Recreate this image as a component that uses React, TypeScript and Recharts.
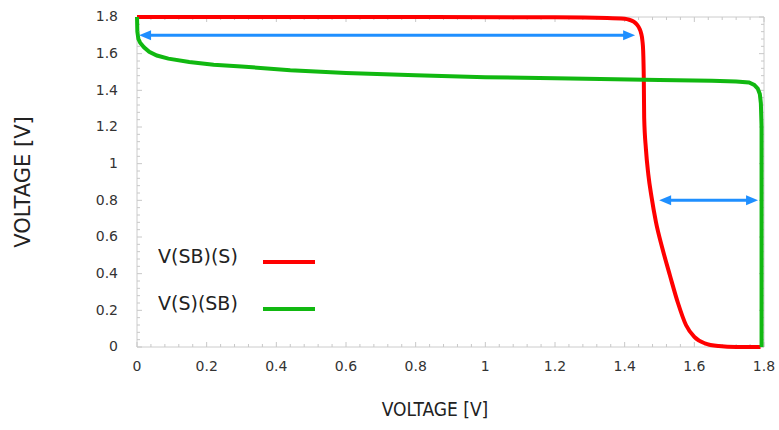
import { LineChart, Line, XAxis, YAxis, ReferenceLine, Legend, Label } from "recharts";

// V(SB)(S) curve
const redX = [0, 0.6, 1.2, 1.35, 1.4, 1.413, 1.426, 1.436, 1.443, 1.447, 1.451, 1.453, 1.455, 1.456, 1.461, 1.468, 1.477, 1.49, 1.508, 1.53, 1.553, 1.576, 1.6, 1.63, 1.67, 1.72, 1.79];
const redY = [1.8, 1.8, 1.798, 1.795, 1.79, 1.785, 1.775, 1.757, 1.735, 1.713, 1.67, 1.62, 1.45, 1.25, 1.08, 0.94, 0.82, 0.68, 0.54, 0.39, 0.24, 0.12, 0.055, 0.02, 0.005, 0, 0];

// V(S)(SB) curve
const greenX = [0, 0.001, 0.004, 0.009, 0.02, 0.035, 0.057, 0.09, 0.15, 0.22, 0.3, 0.44, 0.6, 0.8, 1.0, 1.2, 1.33, 1.5, 1.65, 1.72, 1.757, 1.772, 1.782, 1.788, 1.791, 1.793, 1.793];
const greenY = [1.8, 1.72, 1.68, 1.66, 1.635, 1.61, 1.59, 1.573, 1.555, 1.54, 1.53, 1.51, 1.495, 1.482, 1.472, 1.466, 1.462, 1.457, 1.452, 1.448, 1.443, 1.43, 1.41, 1.38, 1.33, 1.2, 0];

const seriesNames = ["V(SB)(S)", "V(S)(SB)"];
const seriesColors = ["#ff0000", "#11b811"];

// double arrows: [x1, x2, y]
const arrowTop = [0.006, 1.43, 1.7];
const arrowBottom = [1.499, 1.783, 0.8];

// ticks every 0.04, labels every 0.2
const ticks = Array.from({ length: 46 }, (_, i) => Math.round(i * 4) / 100);

const redData = redX.map((x, i) => ({ x, y: redY[i] }));
const greenData = greenX.map((x, i) => ({ x, y: greenY[i] }));

const PLOT_LEFT = 137;
const PLOT_RIGHT = 764;
const PLOT_TOP = 17;
const PLOT_BOTTOM = 347;
const W = 779;
const H = 430;
const TICK_FONT = "'DejaVu Sans', sans-serif";

const isMajor = (v: number) => Math.round(v * 100) % 20 === 0;

const XTick = ({ x, payload }: any) => {
  const major = isMajor(payload.value);
  const len = major ? 5 : 3;
  return (
    <g>
      <line x1={x} y1={PLOT_BOTTOM} x2={x} y2={PLOT_BOTTOM - len} stroke="#c8c8c8" />
      <line x1={x} y1={PLOT_TOP} x2={x} y2={PLOT_TOP + len} stroke="#c8c8c8" />
      {major && (
        <text x={x} y={PLOT_BOTTOM + 14} dy="0.71em" textAnchor="middle" fontSize={14} fill="#333" fontFamily={TICK_FONT}>
          {String(payload.value)}
        </text>
      )}
    </g>
  );
};

const YTick = ({ y, payload }: any) => {
  const major = isMajor(payload.value);
  const len = major ? 5 : 3;
  return (
    <g>
      <line x1={PLOT_LEFT} y1={y} x2={PLOT_LEFT + len} y2={y} stroke="#c8c8c8" />
      <line x1={PLOT_RIGHT} y1={y} x2={PLOT_RIGHT - len} y2={y} stroke="#c8c8c8" />
      {major && (
        <text x={PLOT_LEFT - 19} y={y} dy="0.3em" textAnchor="end" fontSize={14} fill="#333" fontFamily={TICK_FONT}>
          {String(payload.value)}
        </text>
      )}
    </g>
  );
};

const DoubleArrow = (props: any) => {
  const { x1, y1, x2, y2 } = props;
  const color = "#1f8fff";
  const head = 12;
  const half = 5;
  const dir = x2 > x1 ? 1 : -1;
  return (
    <g>
      <line x1={x1 + dir * head * 0.8} y1={y1} x2={x2 - dir * head * 0.8} y2={y2} stroke={color} strokeWidth={3} />
      <polygon points={`${x1},${y1} ${x1 + dir * head},${y1 - half} ${x1 + dir * head},${y1 + half}`} fill={color} />
      <polygon points={`${x2},${y2} ${x2 - dir * head},${y2 - half} ${x2 - dir * head},${y2 + half}`} fill={color} />
    </g>
  );
};

const LegendBox = () => (
  <svg width={180} height={80} style={{ display: "block" }}>
    {seriesNames.map((name, i) => (
      <g key={name}>
        <text x={0} y={25 + i * 47} fontSize={19} fill="#222" fontFamily="'DejaVu Sans', sans-serif">
          {name}
        </text>
        <line x1={105} y1={24 + i * 47} x2={157} y2={24 + i * 47} stroke={seriesColors[i]} strokeWidth={4} />
      </g>
    ))}
  </svg>
);

const XTitle = ({ viewBox }: any) => (
  <text x={435} y={viewBox.y + 56} dy="0.71em" textAnchor="middle" fontSize={19} fill="#222" fontFamily="'DejaVu Sans Condensed', 'DejaVu Sans', sans-serif">
    VOLTAGE [V]
  </text>
);

const YTitle = () => (
  <text x={22} y={182} transform="rotate(-90 22 182)" dy="0.36em" textAnchor="middle" fontSize={21} fill="#222" fontFamily="'DejaVu Sans', sans-serif">
    VOLTAGE [V]
  </text>
);

// frame layer: axes, ticks, titles (drawn underneath the curves)
function Frame() {
  return (
    <LineChart width={W} height={H} data={redData} margin={{ top: PLOT_TOP, right: W - PLOT_RIGHT, bottom: 53, left: 97 }}>
      <XAxis
        type="number"
        dataKey="x"
        domain={[0, 1.8]}
        ticks={ticks}
        interval={0}
        height={30}
        tickSize={0}
        tickMargin={0}
        tickLine={false}
        axisLine={{ stroke: "#cccccc" }}
        tick={<XTick />}
      >
        <Label content={<XTitle />} />
      </XAxis>
      <YAxis
        type="number"
        domain={[0, 1.8]}
        ticks={ticks}
        interval={0}
        width={40}
        tickSize={0}
        tickMargin={0}
        tickLine={false}
        axisLine={{ stroke: "#cccccc" }}
        tick={<YTick />}
      >
        <Label content={<YTitle />} />
      </YAxis>
      <ReferenceLine y={1.8} stroke="#cccccc" />
      <ReferenceLine x={1.8} stroke="#cccccc" />
      <Line dataKey="y" stroke="none" dot={false} isAnimationActive={false} />
    </LineChart>
  );
}

export default function App() {
  return (
    <div style={{ position: "absolute", left: 0, top: 0, width: W, height: H, background: "#fff" }}>
      <Frame />
      <div style={{ position: "absolute", left: 0, top: 0 }}>
        <LineChart
          width={W}
          height={H}
          margin={{ top: PLOT_TOP, right: W - PLOT_RIGHT, bottom: H - PLOT_BOTTOM, left: PLOT_LEFT }}
        >
          <XAxis type="number" dataKey="x" domain={[0, 1.8]} hide />
          <YAxis type="number" domain={[0, 1.8]} hide />
          <Line
            data={redData}
            dataKey="y"
            name={seriesNames[0]}
            type="monotoneX"
            stroke={seriesColors[0]}
            strokeWidth={4}
            dot={false}
            isAnimationActive={false}
          />
          <Line
            data={greenData}
            dataKey="y"
            name={seriesNames[1]}
            type="linear"
            stroke={seriesColors[1]}
            strokeWidth={4}
            dot={false}
            isAnimationActive={false}
          />
          <ReferenceLine
            segment={[
              { x: arrowTop[0], y: arrowTop[2] },
              { x: arrowTop[1], y: arrowTop[2] },
            ]}
            shape={DoubleArrow}
          />
          <ReferenceLine
            segment={[
              { x: arrowBottom[0], y: arrowBottom[2] },
              { x: arrowBottom[1], y: arrowBottom[2] },
            ]}
            shape={DoubleArrow}
          />
          <Legend
            layout="horizontal"
            align="center"
            verticalAlign="middle"
            content={<LegendBox />}
            wrapperStyle={{ position: "absolute", left: 158, top: 238, width: 180, height: 80 }}
          />
        </LineChart>
      </div>
    </div>
  );
}
